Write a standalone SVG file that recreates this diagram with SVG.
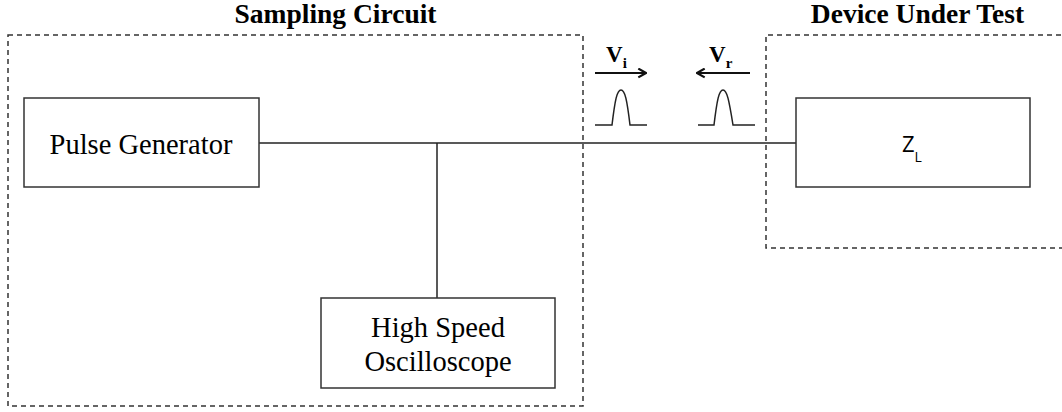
<svg xmlns="http://www.w3.org/2000/svg" width="1062" height="412" viewBox="0 0 1062 412">
<style>
.dash{fill:none;stroke:#333;stroke-width:1.5;stroke-dasharray:5,4}
.box{fill:#fff;stroke:#333;stroke-width:1.5}
.wire{fill:none;stroke:#222;stroke-width:1.5}
.arrow{fill:none;stroke:#111;stroke-width:2}
.title{font-family:"Liberation Serif",serif;font-weight:bold;font-size:27.5px;fill:#000}
.lbl{font-family:"Liberation Serif",serif;font-size:28.5px;fill:#000}
.v{font-family:"Liberation Serif",serif;font-weight:bold;font-size:23px;fill:#000}
.sub{font-family:"Liberation Serif",serif;font-weight:bold;font-size:15px;fill:#000}
</style>
<defs>
<marker id="chev" viewBox="0 0 10 10" refX="9" refY="5" markerWidth="11" markerHeight="11" markerUnits="userSpaceOnUse" orient="auto">
<path d="M2,1 L9,5 L2,9" fill="none" stroke="#111" stroke-width="2"/>
</marker>
</defs>
<g id="sampling-circuit">
<rect class="dash" x="8" y="35" width="575" height="371"/>
<text class="title" x="335.5" y="23" text-anchor="middle">Sampling Circuit</text>
</g>
<g id="device-under-test">
<path class="dash" d="M1070,35 H766 V248 H1070"/>
<text class="title" x="917.5" y="23" text-anchor="middle">Device Under Test</text>
</g>
<g id="connectors">
<line class="wire" x1="259" y1="143" x2="796" y2="143"/>
<line class="wire" x1="437" y1="143" x2="437" y2="298"/>
</g>
<g id="pulse-generator">
<rect class="box" x="24" y="98" width="235" height="89"/>
<text class="lbl" x="141" y="154" text-anchor="middle">Pulse Generator</text>
</g>
<g id="oscilloscope">
<rect class="box" x="321" y="298" width="234" height="90"/>
<text class="lbl" x="438" y="337" text-anchor="middle">High Speed</text>
<text class="lbl" x="438" y="371" text-anchor="middle">Oscilloscope</text>
</g>
<g id="load">
<rect class="box" x="796" y="98" width="234" height="89"/>
<text x="902" y="152" font-family="'Open Sans',sans-serif" font-size="22" fill="#000">Z<tspan font-size="14" dy="10">L</tspan></text>
</g>
<g id="incident-wave">
<text class="v" x="606" y="62">V<tspan class="sub" dy="6">i</tspan></text>
<line class="arrow" x1="595" y1="73" x2="646" y2="73" marker-end="url(#chev)"/>
<path class="wire" d="M595,125 H612 C615,100 617,90 621,90 C625,90 627,100 630,125 H647"/>
</g>
<g id="reflected-wave">
<text class="v" x="709" y="62">V<tspan class="sub" dy="6">r</tspan></text>
<line class="arrow" x1="750" y1="73" x2="697" y2="73" marker-end="url(#chev)"/>
<path class="wire" d="M698,125 H714 C717,100 719,90 723,90 C727,90 729,100 733,125 H755"/>
</g>
</svg>
